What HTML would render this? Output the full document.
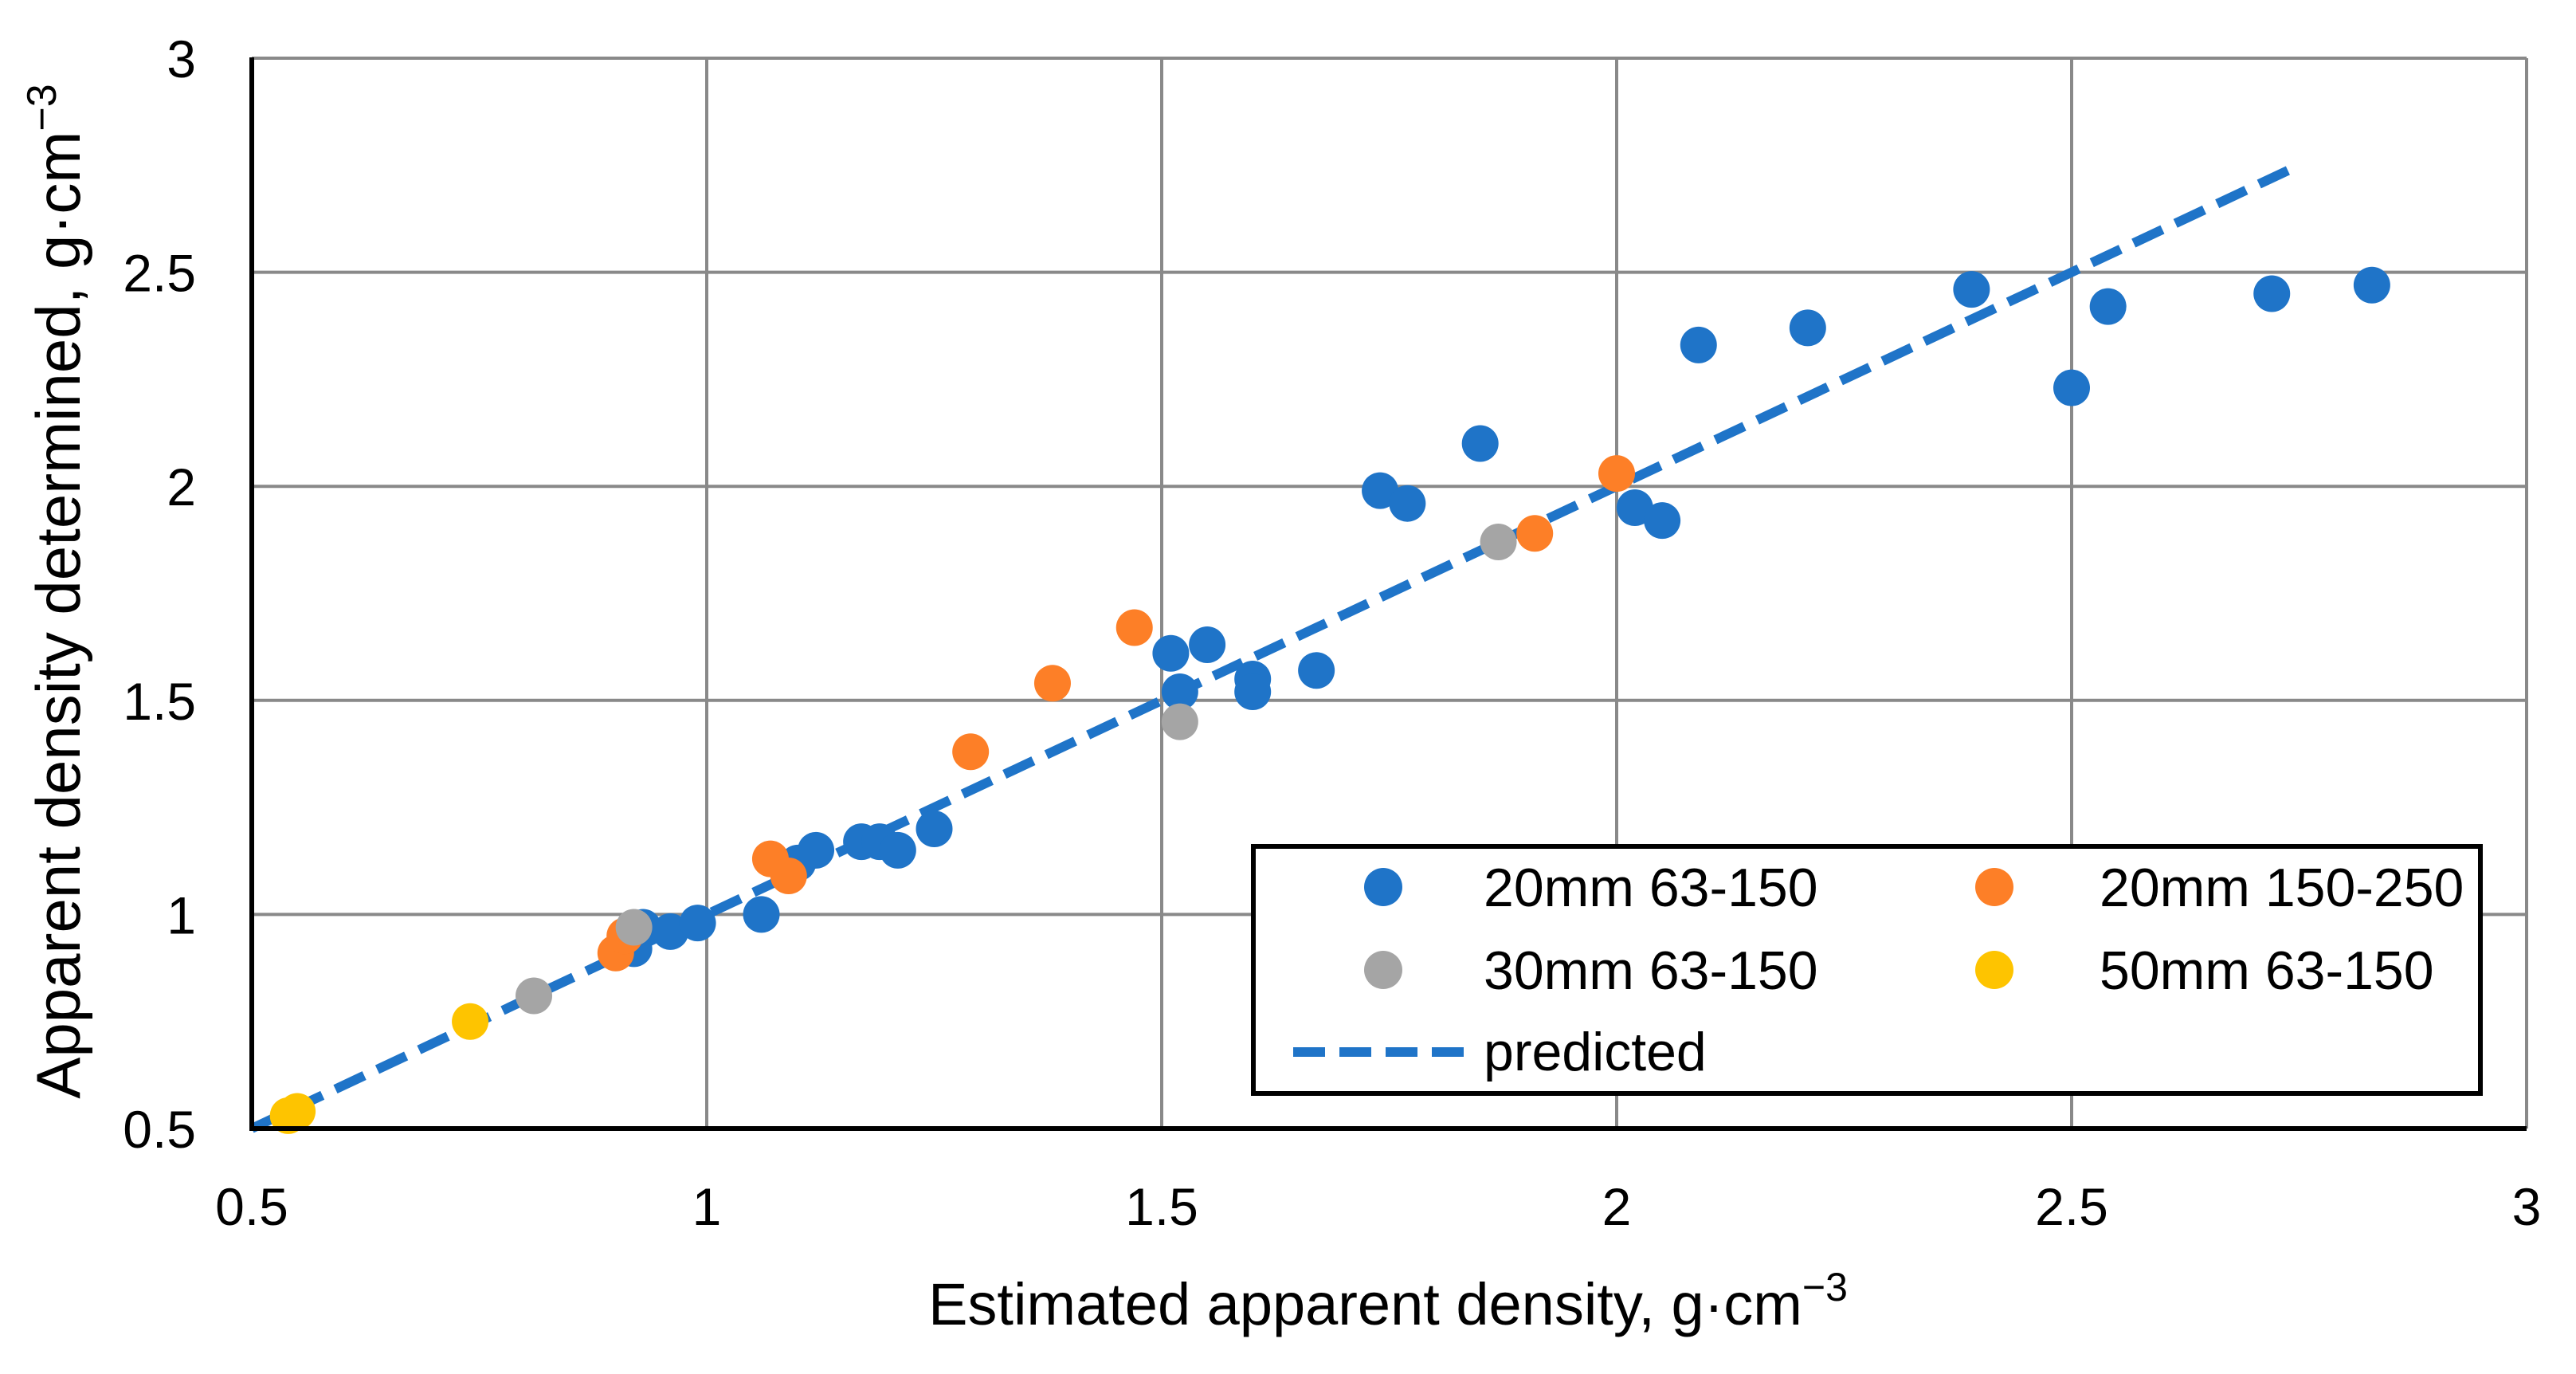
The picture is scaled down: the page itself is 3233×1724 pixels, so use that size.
<!DOCTYPE html>
<html><head><meta charset="utf-8"><style>
html,body{margin:0;padding:0;background:#fff;}
svg{display:block;font-family:"Liberation Sans",sans-serif;}
</style></head><body>
<svg id="chart" width="3233" height="1724" viewBox="0 0 3233 1724" xmlns="http://www.w3.org/2000/svg">
<g id="grid"></g>
<g id="ticks"></g>
<line id="pred" stroke="#1f74c8" stroke-width="12" stroke-dasharray="40,18"/>
<g id="pts"></g>
<line x1="316" y1="72" x2="316" y2="1418" stroke="#000" stroke-width="6"/>
<line x1="313" y1="1416" x2="3171" y2="1416" stroke="#000" stroke-width="6"/>
<text x="1742" y="1662" font-size="74" text-anchor="middle">Estimated apparent density, g·cm<tspan dy="-30" font-size="50">−3</tspan></text>
<text transform="translate(100,742) rotate(-90)" font-size="78" text-anchor="middle">Apparent density determined, g·cm<tspan dy="-30" font-size="52">−3</tspan></text>
<g>
<rect x="1573" y="1062" width="1540" height="310" fill="#fff" stroke="#000" stroke-width="6"/>
<circle cx="1736" cy="1113" r="24" fill="#1f74c8"/>
<text x="1862" y="1137" font-size="68">20mm 63-150</text>
<circle cx="2503" cy="1113" r="24" fill="#fd7f27"/>
<text x="2635" y="1137" font-size="68">20mm 150-250</text>
<circle cx="1736" cy="1217" r="24" fill="#a5a5a5"/>
<text x="1862" y="1241" font-size="68">30mm 63-150</text>
<circle cx="2503" cy="1217" r="24" fill="#fec400"/>
<text x="2635" y="1241" font-size="68">50mm 63-150</text>
<line x1="1623" y1="1320" x2="1846" y2="1320" stroke="#1f74c8" stroke-width="12" stroke-dasharray="40,18"/>
<text x="1862" y="1343" font-size="68">predicted</text>
</g>
</svg>
<script>
const xTicks=[0.5,1,1.5,2,2.5,3];
const yTicks=[0.5,1,1.5,2,2.5,3];
const xTickLabels=["0.5","1","1.5","2","2.5","3"];
const yTickLabels=["0.5","1","1.5","2","2.5","3"];
const blueX=[0.92,0.93,0.96,0.99,1.06,1.10,1.12,1.17,1.19,1.21,1.25,1.51,1.52,1.55,1.60,1.60,1.67,1.74,1.77,1.85,2.02,2.05,2.09,2.21,2.39,2.50,2.54,2.72,2.83];
const blueY=[0.92,0.97,0.96,0.98,1.00,1.12,1.15,1.17,1.17,1.15,1.20,1.61,1.52,1.63,1.55,1.52,1.57,1.99,1.96,2.10,1.95,1.92,2.33,2.37,2.46,2.23,2.42,2.45,2.47];
const orangeX=[0.90,0.91,1.07,1.09,1.29,1.38,1.47,2.00,1.91];
const orangeY=[0.91,0.95,1.13,1.09,1.38,1.54,1.67,2.03,1.89];
const grayX=[0.81,0.92,1.52,1.87];
const grayY=[0.81,0.97,1.45,1.87];
const yellowX=[0.54,0.55,0.74];
const yellowY=[0.53,0.54,0.75];
const predX=[0.5,2.75];
const predY=[0.5,2.75];
const NS="http://www.w3.org/2000/svg";
function sx(v){return 316+(v-0.5)*(3171-316)/2.5;}
function sy(v){return 1416-(v-0.5)*(1416-73)/2.5;}
const grid=document.getElementById('grid'),ticks=document.getElementById('ticks');
xTicks.forEach((t,i)=>{
 const l=document.createElementNS(NS,'line');
 
 
 l.setAttribute('x1',sx(t));l.setAttribute('x2',sx(t));l.setAttribute('y1',sy(3));l.setAttribute('y2',sy(0.5));
 l.setAttribute('stroke','#898989');l.setAttribute('stroke-width','4');grid.appendChild(l);
 const tx=document.createElementNS(NS,'text');
 
 
 tx.setAttribute('x',sx(t));tx.setAttribute('y',1537);tx.setAttribute('font-size','66');tx.setAttribute('text-anchor','middle');
 tx.textContent=xTickLabels[i];ticks.appendChild(tx);
});
yTicks.forEach((t,i)=>{
 const l=document.createElementNS(NS,'line');
 
 
 l.setAttribute('x1',sx(0.5));l.setAttribute('x2',sx(3));l.setAttribute('y1',sy(t));l.setAttribute('y2',sy(t));
 l.setAttribute('stroke','#898989');l.setAttribute('stroke-width','4');grid.appendChild(l);
 const tx=document.createElementNS(NS,'text');
 
 
 tx.setAttribute('x',246);tx.setAttribute('y',sy(t)+24);tx.setAttribute('font-size','66');tx.setAttribute('text-anchor','end');
 tx.textContent=yTickLabels[i];ticks.appendChild(tx);
});
const pred=document.getElementById('pred');
pred.setAttribute('x1',sx(predX[0]));pred.setAttribute('y1',sy(predY[0]));
pred.setAttribute('x2',sx(predX[1]));pred.setAttribute('y2',sy(predY[1]));
const pts=document.getElementById('pts');
function series(xs,ys,color,name){
 xs.forEach((x,i)=>{
  const c=document.createElementNS(NS,'circle');
  
  
  c.setAttribute('cx',sx(x));c.setAttribute('cy',sy(ys[i]));c.setAttribute('r','23');c.setAttribute('fill',color);
  pts.appendChild(c);
 });
}
series(blueX,blueY,'#1f74c8','point-20mm-63-150');
series(orangeX,orangeY,'#fd7f27','point-20mm-150-250');
series(grayX,grayY,'#a5a5a5','point-30mm-63-150');
series(yellowX,yellowY,'#fec400','point-50mm-63-150');
</script>
</body></html>
